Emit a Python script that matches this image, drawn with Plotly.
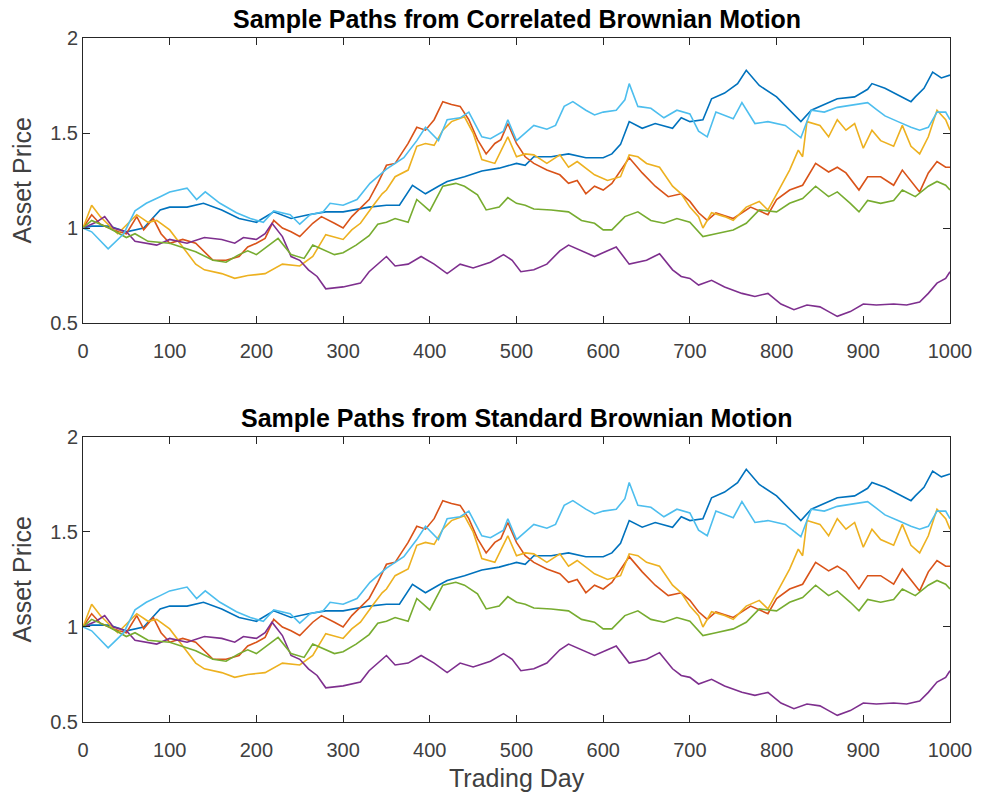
import plotly.graph_objects as go
from plotly.subplots import make_subplots

# ---- data (trading day, asset price) ----
days_1 = [0,10,30,50,70,89,100,120,139,160,180,200,220,240,260,280,300,330,350,365,380,395,410,420,440,460,480,500,510,520,540,560,580,600,610,620,630,645,660,680,690,700,715,725,740,755,765,780,800,815,828,840,855,870,890,905,910,925,940,955,960,970,980,990,1000]
price_1 = [1.00,1.01,1.01,0.98,1.00,1.095,1.11,1.11,1.13,1.095,1.05,1.03,1.085,1.05,1.07,1.085,1.085,1.11,1.12,1.12,1.225,1.18,1.22,1.245,1.27,1.30,1.315,1.34,1.33,1.375,1.375,1.39,1.37,1.37,1.39,1.44,1.56,1.525,1.55,1.525,1.58,1.56,1.57,1.68,1.71,1.76,1.83,1.75,1.69,1.62,1.56,1.62,1.65,1.68,1.69,1.73,1.76,1.735,1.70,1.665,1.69,1.735,1.82,1.79,1.805]

days_2 = [0,10,20,35,50,62,70,81,90,100,115,130,150,165,180,190,200,210,220,230,240,250,265,275,290,300,310,330,340,350,360,375,385,395,405,415,425,435,445,455,465,475,482,490,500,510,520,535,550,560,570,580,590,600,610,630,645,660,675,690,700,710,720,730,750,770,790,800,815,830,845,860,870,880,895,905,920,935,945,960,965,975,985,995,1000]
price_2 = [1.00,1.07,1.02,0.99,0.97,1.06,0.99,1.05,0.97,0.92,0.94,0.92,0.83,0.83,0.85,0.90,0.92,0.945,1.04,1.00,0.98,0.955,1.025,1.06,1.025,1.00,1.06,1.15,1.235,1.33,1.34,1.445,1.53,1.515,1.57,1.665,1.65,1.64,1.57,1.465,1.39,1.445,1.465,1.55,1.445,1.375,1.34,1.305,1.28,1.235,1.25,1.18,1.22,1.20,1.235,1.37,1.29,1.22,1.165,1.18,1.14,1.08,1.04,1.08,1.05,1.11,1.07,1.15,1.20,1.225,1.34,1.295,1.32,1.29,1.20,1.27,1.27,1.225,1.305,1.22,1.19,1.29,1.35,1.32,1.32]

days_3 = [0,10,20,40,62,75,85,100,115,130,140,160,175,190,210,230,250,265,280,300,310,320,335,345,350,360,375,385,395,405,415,425,440,450,460,475,490,500,510,520,535,550,560,570,590,605,620,630,640,650,665,680,690,700,710,715,725,740,750,765,780,790,805,815,825,830,835,850,860,870,880,890,900,910,920,935,945,955,965,975,985,995,1000]
price_3 = [1.00,1.12,1.06,0.97,1.07,1.03,1.04,0.99,0.90,0.81,0.78,0.76,0.735,0.75,0.76,0.81,0.80,0.85,0.965,0.94,0.99,1.025,1.12,1.18,1.20,1.27,1.305,1.43,1.445,1.435,1.515,1.56,1.585,1.50,1.36,1.34,1.48,1.375,1.39,1.385,1.34,1.385,1.32,1.35,1.28,1.25,1.27,1.385,1.375,1.34,1.32,1.22,1.18,1.11,1.06,1.00,1.08,1.06,1.04,1.11,1.14,1.095,1.22,1.305,1.41,1.375,1.56,1.54,1.48,1.57,1.515,1.55,1.42,1.515,1.46,1.43,1.54,1.43,1.39,1.48,1.62,1.57,1.515]

days_4 = [0,15,25,35,50,60,85,100,120,140,160,175,185,200,210,218,230,240,250,260,270,280,300,320,330,340,350,360,375,390,405,420,435,450,470,485,495,505,520,535,550,560,575,590,605,615,630,650,665,680,690,700,710,725,740,760,775,790,805,820,835,850,860,870,885,900,915,935,950,965,975,985,995,1000]
price_4 = [1.00,1.03,1.06,1.00,0.98,0.93,0.91,0.94,0.92,0.95,0.94,0.92,0.95,0.94,0.97,1.025,0.955,0.85,0.83,0.78,0.745,0.68,0.69,0.71,0.77,0.81,0.85,0.80,0.81,0.85,0.81,0.76,0.81,0.79,0.82,0.86,0.83,0.77,0.78,0.81,0.88,0.91,0.88,0.85,0.88,0.90,0.81,0.83,0.865,0.78,0.745,0.735,0.70,0.725,0.69,0.656,0.64,0.656,0.60,0.57,0.595,0.585,0.56,0.535,0.56,0.60,0.595,0.60,0.595,0.61,0.656,0.71,0.735,0.77]

days_5 = [0,10,30,50,60,75,100,130,150,165,180,190,200,215,225,240,255,265,275,290,300,315,330,340,350,360,375,385,400,415,430,440,455,465,480,490,500,510,520,540,560,575,590,600,610,625,640,655,670,685,700,715,730,750,765,780,800,815,830,845,860,870,885,895,905,920,935,945,960,975,985,995,1000]
price_5 = [1.00,1.04,1.00,0.95,0.97,0.93,0.92,0.875,0.83,0.82,0.86,0.88,0.86,0.91,0.945,0.86,0.84,0.91,0.89,0.86,0.87,0.91,0.96,1.02,1.03,1.05,1.03,1.15,1.09,1.22,1.235,1.22,1.175,1.095,1.11,1.16,1.13,1.12,1.10,1.095,1.085,1.04,1.025,0.99,0.99,1.06,1.085,1.04,1.025,1.05,1.03,0.955,0.97,0.99,1.025,1.095,1.085,1.13,1.155,1.22,1.165,1.19,1.13,1.085,1.145,1.13,1.145,1.20,1.165,1.22,1.245,1.225,1.20]

days_6 = [0,10,29,47,60,73,89,100,120,131,141,158,177,193,208,220,239,250,262,277,285,300,316,331,350,370,385,395,410,420,435,445,460,470,485,490,500,510,520,535,545,555,565,580,590,600,615,625,630,640,655,670,685,700,710,720,730,750,760,775,790,810,828,840,855,870,890,905,915,925,940,955,965,975,985,995,1000]
price_6 = [1.00,0.98,0.89,0.97,1.09,1.13,1.165,1.19,1.21,1.15,1.19,1.13,1.08,1.05,1.03,1.09,1.07,1.02,1.07,1.085,1.13,1.12,1.15,1.235,1.31,1.37,1.46,1.53,1.46,1.57,1.58,1.61,1.48,1.47,1.51,1.57,1.46,1.50,1.54,1.52,1.54,1.64,1.665,1.62,1.595,1.61,1.62,1.675,1.76,1.64,1.63,1.58,1.62,1.60,1.51,1.48,1.61,1.575,1.66,1.55,1.56,1.54,1.475,1.62,1.61,1.635,1.65,1.66,1.625,1.59,1.56,1.53,1.515,1.53,1.61,1.61,1.57]

series_days = [days_1, days_2, days_3, days_4, days_5, days_6]
series_price = [price_1, price_2, price_3, price_4, price_5, price_6]
colors = ["#0072BD", "#D95319", "#EDB120", "#7E2F8E", "#77AC30", "#4DBEEE"]

x_ticks = [0, 100, 200, 300, 400, 500, 600, 700, 800, 900, 1000]
y_ticks = [0.5, 1, 1.5, 2]
y_tick_text = ["0.5", "1", "1.5", "2"]

titles = ["Sample Paths from Correlated Brownian Motion",
          "Sample Paths from Standard Brownian Motion"]

FONT = "Liberation Sans, Arial, Helvetica, sans-serif"
AX = "#262626"

fig = make_subplots(rows=2, cols=1)
for row in (1, 2):
    for d, p, c in zip(series_days, series_price, colors):
        fig.add_trace(go.Scatter(x=d, y=p, mode="lines",
                                 line=dict(color=c, width=1.6),
                                 showlegend=False, hoverinfo="skip"),
                      row=row, col=1)

axis_common = dict(showgrid=False, zeroline=False, showline=True, automargin=False,
                   linecolor=AX, linewidth=1, mirror="ticks",
                   ticks="inside", ticklen=7, tickcolor=AX, tickwidth=1,
                   tickfont=dict(family=FONT, size=20, color="#404040"))

top_dom = [0.5833, 1.0]
bot_dom = [0.0, 0.4167]
fig.update_layout(
    width=982, height=796,
    margin=dict(l=83, r=32, t=38, b=74),
    plot_bgcolor="white", paper_bgcolor="white",
    xaxis=dict(range=[0, 1000], tickvals=x_ticks, ticklabelstandoff=10, **axis_common),
    xaxis2=dict(range=[0, 1000], tickvals=x_ticks, ticklabelstandoff=10, **axis_common),
    yaxis=dict(range=[0.5, 2], tickvals=y_ticks, ticktext=y_tick_text,
               domain=top_dom, **axis_common),
    yaxis2=dict(range=[0.5, 2], tickvals=y_ticks, ticktext=y_tick_text,
                domain=bot_dom, **axis_common),
)

annotations = []
for title, dom in zip(titles, [top_dom, bot_dom]):
    annotations.append(dict(text="<b>" + title + "</b>", xref="paper", yref="paper",
                            x=0.5, y=dom[1], xanchor="center", yanchor="bottom",
                            yshift=3, showarrow=False,
                            font=dict(family=FONT, size=25, color="black")))
    annotations.append(dict(text="Asset Price", xref="paper", yref="paper",
                            x=0, y=(dom[0] + dom[1]) / 2, xanchor="center",
                            yanchor="middle", xshift=-61, textangle=-90,
                            showarrow=False,
                            font=dict(family=FONT, size=25, color="#404040")))
annotations.append(dict(text="Trading Day", xref="paper", yref="paper",
                        x=0.5, y=0, xanchor="center", yanchor="middle",
                        yshift=-56, showarrow=False,
                        font=dict(family=FONT, size=25, color="#404040")))
fig.update_layout(annotations=annotations)

# remove the browser's default 8px body margin so the figure fills the window
fig.write_html("out.html", config={"displayModeBar": False},
               post_script="document.body.style.margin='0';document.body.style.overflow='hidden';")
